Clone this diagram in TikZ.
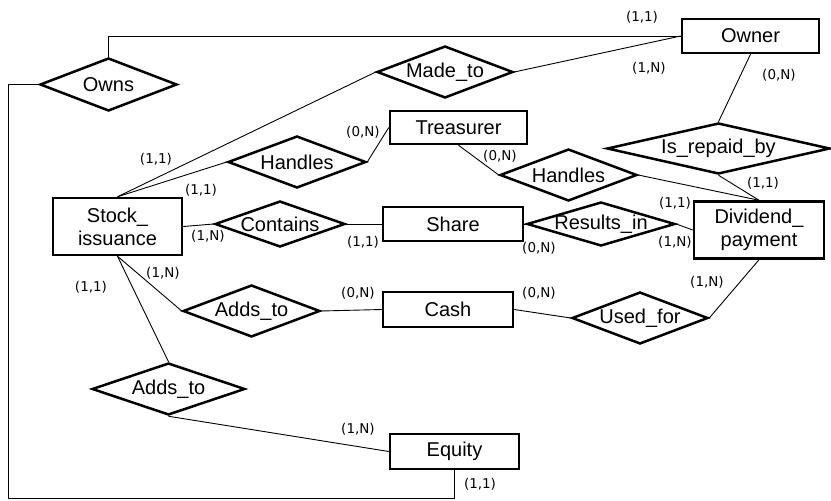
\documentclass[tikz,border=0pt]{standalone}
\usepackage{fontspec}
\setmainfont{Liberation Sans}
\newfontfamily\cardfont{DejaVu Sans}
\usetikzlibrary{shapes}

\begin{document}
\begin{tikzpicture}[x=1pt,y=-1pt,line width=0.9pt]
            \tikzstyle{entity}=[draw,rectangle,line width=2.5pt,inner sep=0pt,minimum width=130pt,minimum height=34pt,align=center,font=\fontsize{20}{23}\selectfont]
            \tikzstyle{rel}=[draw,diamond,line width=2.5pt,inner sep=0pt,minimum width=137pt,minimum height=52pt,font=\fontsize{20}{23}\selectfont]
            \tikzstyle{card}=[inner sep=0pt,font=\cardfont\fontsize{13.5}{15}\selectfont]

            \useasboundingbox (0,0) rectangle (831,501);

            \node[entity,minimum width=137pt] (owner) at (750.5,36) {Owner};
            \node[entity,minimum width=137pt,minimum height=33pt] (treasurer) at (458.5,127.5) {Treasurer};
            \node[entity,minimum width=129pt,minimum height=57pt] (stock) at (117.5,226.5) {Stock\_\\issuance};
            \node[entity,minimum width=140pt] (share) at (453,224) {Share};
            \node[entity,minimum height=57pt] (dividend) at (759,230) {Dividend\_\\payment};
            \node[entity,minimum height=35pt] (cash) at (448,309.5) {Cash};
            \node[entity,minimum width=129pt,minimum height=35pt] (equity) at (454.5,451.5) {Equity};

            \node[rel,minimum height=53pt] (owns) at (108.5,84.5) {\makebox[0pt]{Owns}};
            \node[rel,minimum width=136pt] (madeto) at (445,72) {\makebox[0pt]{Made\_to}};
            \node[rel,minimum width=138pt] (handlesT) at (297,162) {\makebox[0pt]{Handles}};
            \node[rel] (handlesD) at (568.5,175) {\makebox[0pt]{Handles}};
            \node[rel,minimum width=223pt,minimum height=51pt] (repaid) at (718.5,148.5) {\makebox[0pt]{Is\_repaid\_by}};
            \node[rel,minimum width=130pt,minimum height=46pt] (contains) at (280,224) {\makebox[0pt]{Contains}};
            \node[rel,minimum width=148pt,minimum height=44pt] (results) at (601,224) {\makebox[0pt]{Results\_in}};
            \node[rel] (addscash) at (251.5,311) {\makebox[0pt]{Adds\_to}};
            \node[rel,minimum width=136pt] (usedfor) at (640,318) {\makebox[0pt]{Used\_for}};
            \node[rel,minimum width=153pt] (addsequity) at (168.5,389) {\makebox[0pt]{Adds\_to}};

            \coordinate (corner) at (8,498);

            \draw (owns.north) |- (owner.west);
            \draw (owns.west) -| (corner) -| (equity.south);
            \draw (madeto.east) -- (owner.west);
            \draw (madeto.west) -- (stock.north);
            \draw (handlesT.west) -- (stock.north);
            \draw (handlesT.east) -- (treasurer.west);
            \draw (treasurer.south) -- (handlesD.west);
            \draw (handlesD.east) -- (dividend.north);
            \draw (owner.south) -- (repaid.north);
            \draw (repaid.south) -- (dividend.north);
            \draw (stock.east) -- (contains.west);
            \draw (contains.east) -- (share.west);
            \draw (share.east) -- (results.west);
            \draw (results.east) -- (dividend.west);
            \draw (stock.south) -- (addscash.west);
            \draw (addscash.east) -- (cash.west);
            \draw (cash.east) -- (usedfor.west);
            \draw (usedfor.east) -- (dividend.south);
            \draw (stock.south) -- (addsequity.north);
            \draw (addsequity.south) -- (equity.west);

            \node[card] (c1) at (642,17) {(1,1)};
            \node[card] (c2) at (649,68) {(1,N)};
            \node[card] (c3) at (779,75) {(0,N)};
            \node[card] (c4) at (156,159) {(1,1)};
            \node[card] (c5) at (201,190) {(1,1)};
            \node[card] (c6) at (363,132) {(0,N)};
            \node[card] (c7) at (500,156) {(0,N)};
            \node[card] (c8) at (763,183) {(1,1)};
            \node[card] (c9) at (675,203) {(1,1)};
            \node[card] (c10) at (675,242) {(1,N)};
            \node[card] (c11) at (208,236) {(1,N)};
            \node[card] (c12) at (363,242) {(1,1)};
            \node[card] (c13) at (539,248) {(0,N)};
            \node[card] (c14) at (163,273) {(1,N)};
            \node[card] (c15) at (91,287) {(1,1)};
            \node[card] (c16) at (358,293) {(0,N)};
            \node[card] (c17) at (539,293) {(0,N)};
            \node[card] (c18) at (707,282) {(1,N)};
            \node[card] (c19) at (358,429) {(1,N)};
            \node[card] (c20) at (480,484) {(1,1)};
            \end{tikzpicture}
\end{document}
